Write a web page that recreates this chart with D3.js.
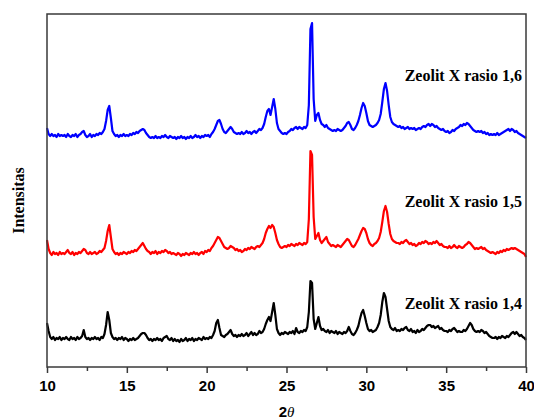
<!DOCTYPE html>
<html>
<head>
<meta charset="utf-8">
<script src="https://cdn.jsdelivr.net/npm/d3@7"></script>
<style>
  html, body { margin: 0; padding: 0; background: #fff; }
  svg { display: block; }
</style>
</head>
<body>
<svg id="chart" width="534" height="419"></svg>
<script>
// 2theta grid: 10.0 .. 40.0, step 0.1 deg
const THETA_START = 10;
const THETA_STEP = 0.1;

// intensities (a.u., stacked)
const rasio14 = [
  44, 36, 30, 28, 30, 27, 29, 28, 30, 27,
  29, 28, 30, 28, 27, 30, 28, 29, 27, 30,
  28, 29, 31, 37, 30, 28, 29, 27, 29, 28,
  30, 28, 29, 27, 30, 29, 33, 42, 55, 47,
  34, 30, 28, 29, 27, 29, 28, 30, 27, 29,
  28, 26, 28, 27, 29, 27, 28, 29, 31, 33,
  34, 34, 32, 29, 27, 28, 26, 28, 27, 29,
  27, 28, 26, 29, 30, 31, 28, 27, 29, 26,
  28, 26, 27, 25, 28, 26, 27, 29, 26, 28,
  27, 29, 26, 28, 27, 29, 28, 27, 30, 28,
  29, 28, 30, 29, 32, 36, 44, 47, 39, 32,
  31, 30, 32, 33, 35, 37, 33, 31, 32, 30,
  32, 31, 33, 31, 32, 34, 31, 33, 35, 32,
  34, 32, 33, 36, 34, 35, 38, 43, 47, 50,
  46, 55, 64, 52, 38, 34, 32, 34, 33, 35,
  34, 33, 35, 34, 36, 33, 39, 35, 34, 36,
  35, 37, 36, 40, 55, 86, 84, 48, 38, 44,
  50, 41, 37, 38, 36, 35, 37, 34, 36, 35,
  34, 36, 33, 35, 34, 33, 35, 34, 36, 40,
  36, 33, 32, 34, 37, 41, 48, 54, 57, 51,
  44, 38, 36, 37, 35, 36, 37, 40, 44, 52,
  65, 74, 70, 58, 46, 40, 38, 37, 39, 36,
  37, 36, 38, 37, 39, 40, 37, 36, 38, 35,
  36, 34, 37, 35, 36, 38, 37, 39, 41, 42,
  42, 40, 41, 39, 40, 41, 38, 39, 37, 36,
  36, 35, 37, 36, 38, 39, 37, 35, 36, 35,
  35, 37, 36, 38, 41, 44, 42, 38, 36, 35,
  36, 35, 37, 36, 34, 35, 33, 31, 30, 29,
  29, 30, 28, 30, 29, 31, 30, 29, 31, 30,
  32, 34, 35, 33, 35, 33, 31, 32, 30, 29,
  27
];

const rasio15 = [
  127, 118, 114, 112, 115, 113, 114, 112, 115, 113,
  114, 113, 115, 117, 114, 113, 115, 112, 114, 113,
  115, 114, 116, 118, 117, 114, 113, 115, 113, 114,
  115, 113, 114, 116, 115, 117, 119, 126, 136, 142,
  130, 118, 115, 113, 114, 112, 114, 113, 115, 114,
  113, 115, 114, 116, 115, 117, 116, 118, 120, 122,
  124, 121, 118, 116, 115, 113, 115, 114, 116, 113,
  115, 114, 116, 115, 117, 116, 114, 115, 113, 114,
  113, 112, 114, 113, 111, 113, 112, 114, 113, 112,
  114, 113, 115, 113, 114, 112, 114, 115, 113, 116,
  115, 117, 116, 119, 121, 124, 127, 130, 129, 126,
  123, 120, 119, 118, 119, 121, 120, 119, 117, 118,
  116, 117, 115, 116, 118, 117, 119, 118, 120, 119,
  118, 120, 121, 120, 122, 124, 128, 134, 138, 141,
  139, 142, 140, 134, 127, 123, 120, 119, 120, 121,
  120, 122, 121, 123, 122, 121, 123, 122, 124, 123,
  122, 124, 123, 125, 148, 216, 212, 150, 128, 131,
  134, 127, 124, 126, 128, 130, 125, 123, 121, 122,
  121, 120, 122, 121, 120, 122, 124, 126, 128, 127,
  124, 121, 120, 122, 125, 128, 132, 136, 139, 138,
  134, 128, 124, 122, 121, 123, 124, 126, 129, 135,
  145, 156, 161, 155, 143, 133, 128, 126, 125, 124,
  124, 123, 125, 124, 126, 127, 125, 123, 124, 122,
  123, 121, 122, 124, 123, 125, 124, 126, 125, 123,
  124, 123, 125, 124, 126, 124, 122, 123, 121, 120,
  120, 119, 121, 119, 120, 122, 120, 119, 121, 120,
  119, 120, 122, 123, 125, 124, 122, 120, 118, 119,
  118, 119, 120, 118, 119, 117, 116, 115, 114, 115,
  114, 113, 115, 114, 116, 115, 117, 116, 118, 117,
  118, 119, 118, 119, 118, 117, 116, 115, 114, 113,
  110
];

const rasio16 = [
  239, 233, 231, 233, 231, 232, 230, 233, 231, 232,
  231, 232, 230, 233, 231, 230, 232, 231, 233, 230,
  232, 233, 235, 236, 232, 230, 231, 233, 230, 232,
  231, 233, 232, 234, 233, 235, 238, 246, 257, 261,
  249, 236, 233, 231, 232, 230, 232, 231, 233, 231,
  232, 231, 233, 232, 234, 233, 235, 234, 236, 237,
  238, 237, 234, 232, 230, 229, 230, 229, 231, 229,
  230, 229, 231, 230, 232, 230, 229, 231, 230, 229,
  230, 228, 230, 229, 231, 229, 230, 228, 230, 229,
  231, 229, 230, 232, 230, 231, 229, 231, 230, 232,
  231, 232, 230, 233, 235, 238, 242, 246, 247, 243,
  238, 235, 234, 236, 238, 240, 238, 235, 234, 233,
  234, 233, 235, 233, 234, 236, 234, 235, 233, 235,
  236, 234, 236, 238, 237, 239, 243, 250, 256, 258,
  252, 260, 268, 258, 244, 238, 236, 234, 233, 234,
  233, 235, 236, 238, 237, 239, 240, 238, 240, 239,
  238, 240, 239, 242, 262, 338, 344, 268, 246, 252,
  254, 247, 243, 242, 240, 242, 239, 238, 237, 236,
  237, 236, 238, 237, 236, 237, 239, 241, 244, 245,
  242, 238, 237, 239, 242, 246, 252, 259, 264, 261,
  254, 246, 242, 241, 240, 241, 242, 244, 247, 253,
  265, 278, 284, 276, 262, 250, 245, 243, 242, 241,
  240, 241, 239, 240, 238, 239, 240, 238, 239, 238,
  239, 237, 238, 239, 238, 240, 241, 240, 242, 243,
  241, 243, 242, 240, 241, 239, 238, 237, 238, 236,
  235, 236, 234, 235, 237, 236, 238, 239, 240, 242,
  241, 243, 242, 244, 243, 241, 239, 237, 236, 235,
  236, 235, 236, 234, 235, 233, 234, 232, 233, 232,
  233, 232, 234, 232, 233, 234, 235, 236, 237, 238,
  236, 238, 237, 235, 236, 234, 233, 232, 231, 230,
  229
];

const seriesNames = ["Zeolit X rasio 1,4", "Zeolit X rasio 1,5", "Zeolit X rasio 1,6"];
const seriesValues = [rasio14, rasio15, rasio16];
const seriesColors = ["#000000", "#ff0000", "#0000ff"];
const labelBaselines = [309, 206.5, 81];

const majorTicks = [10, 15, 20, 25, 30, 35, 40];
const minorTicks = [12.5, 17.5, 22.5, 27.5, 32.5, 37.5];

const margin = { top: 14, right: 8, bottom: 52, left: 47 };
const width = 534, height = 419;

const svg = d3.select("#chart");

const x = d3.scaleLinear()
  .domain([10, 40])
  .range([margin.left, width - margin.right]);

const y = d3.scaleLinear()
  .domain([0, 353])
  .range([height - margin.bottom, margin.top]);

const line = d3.line()
  .x((d, i) => x(THETA_START + i * THETA_STEP))
  .y(d => y(d));

// traces
seriesValues.forEach((vals, k) => {
  svg.append("path")
    .datum(vals)
    .attr("fill", "none")
    .attr("stroke", seriesColors[k])
    .attr("stroke-width", 2.2)
    .attr("stroke-linejoin", "round")
    .attr("d", line);
});

// frame
svg.append("rect")
  .attr("x", margin.left)
  .attr("y", margin.top)
  .attr("width", width - margin.left - margin.right)
  .attr("height", height - margin.top - margin.bottom)
  .attr("fill", "none")
  .attr("stroke", "#3a3a3a")
  .attr("stroke-width", 1.5);

// x axis
const xAxis = svg.append("g")
  .attr("transform", `translate(0,${height - margin.bottom})`)
  .call(d3.axisBottom(x).tickValues(majorTicks).tickSize(6).tickSizeOuter(0).tickPadding(7));
xAxis.select(".domain").remove();
xAxis.selectAll(".tick line").attr("stroke", "#3a3a3a").attr("stroke-width", 1.5);
xAxis.selectAll(".tick text")
  .attr("fill", "#000")
  .style("font-family", "'Liberation Sans', Arial, sans-serif")
  .style("font-weight", "bold")
  .style("font-size", "15px");

const xMinor = svg.append("g")
  .attr("transform", `translate(0,${height - margin.bottom})`)
  .call(d3.axisBottom(x).tickValues(minorTicks).tickSize(4).tickFormat(""));
xMinor.select(".domain").remove();
xMinor.selectAll(".tick line").attr("stroke", "#3a3a3a").attr("stroke-width", 1.5);

// axis titles
const xTitle = svg.append("text")
  .attr("x", (x(10) + x(40)) / 2)
  .attr("y", 417)
  .attr("text-anchor", "middle")
  .style("font-family", "'Liberation Sans', Arial, sans-serif")
  .style("font-weight", "bold")
  .style("font-size", "15px");
xTitle.append("tspan").text("2");
xTitle.append("tspan")
  .style("font-family", "'Liberation Serif', 'Times New Roman', serif")
  .style("font-style", "italic")
  .style("font-weight", "normal")
  .text("θ");

svg.append("text")
  .attr("transform", `translate(24,${(margin.top + height - margin.bottom) / 2 + 10}) rotate(-90)`)
  .attr("text-anchor", "middle")
  .style("font-family", "'Liberation Serif', 'Times New Roman', serif")
  .style("font-weight", "bold")
  .style("font-size", "16px")
  .text("Intensitas");

// series labels
seriesNames.forEach((name, k) => {
  svg.append("text")
    .attr("x", 522)
    .attr("y", labelBaselines[k])
    .attr("text-anchor", "end")
    .style("font-family", "'Liberation Serif', 'Times New Roman', serif")
    .style("font-weight", "bold")
    .style("font-size", "16px")
    .attr("fill", "#000")
    .text(name);
});
</script>
</body>
</html>
